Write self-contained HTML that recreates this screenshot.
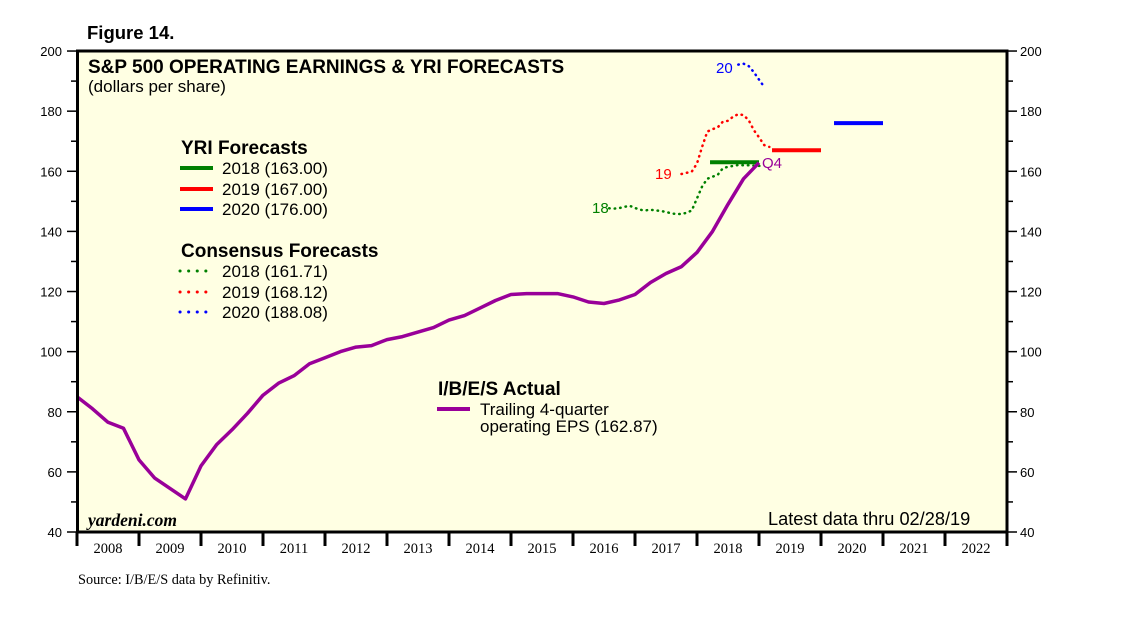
<!DOCTYPE html>
<html><head><meta charset="utf-8">
<style>
html,body{margin:0;padding:0;background:#fff;}
svg{display:block;font-family:"Liberation Sans",Arial,sans-serif;}
</style></head>
<body>
<svg id="chart" width="1138" height="621" viewBox="0 0 1138 621">
<text x="87" y="39" font-size="18.5" font-weight="bold">Figure 14.</text>
<rect x="77" y="51" width="930" height="481" fill="#FFFFE3"/>
<g id="axes"></g>
<g id="series"></g>
<rect x="77.5" y="51" width="929.5" height="481" fill="none" stroke="#000" stroke-width="3"/>
<text x="88" y="73" font-size="19" font-weight="bold">S&amp;P 500 OPERATING EARNINGS &amp; YRI FORECASTS</text>
<text x="88" y="92" font-size="17">(dollars per share)</text>
<g>
<text x="181" y="154" font-size="19" font-weight="bold">YRI Forecasts</text>
<line x1="180" y1="168" x2="213" y2="168" stroke="#008000" stroke-width="4"/>
<text x="222" y="174" font-size="17">2018 (163.00)</text>
<line x1="180" y1="189" x2="213" y2="189" stroke="#FF0000" stroke-width="4"/>
<text x="222" y="195" font-size="17">2019 (167.00)</text>
<line x1="180" y1="209" x2="213" y2="209" stroke="#0000FF" stroke-width="4"/>
<text x="222" y="215" font-size="17">2020 (176.00)</text>
</g>
<g>
<text x="181" y="257" font-size="19" font-weight="bold">Consensus Forecasts</text>
<line x1="180" y1="271" x2="206" y2="271" stroke="#008000" stroke-width="3" stroke-dasharray="0.1 8.5" stroke-linecap="round"/>
<text x="222" y="277" font-size="17">2018 (161.71)</text>
<line x1="180" y1="292" x2="206" y2="292" stroke="#FF0000" stroke-width="3" stroke-dasharray="0.1 8.5" stroke-linecap="round"/>
<text x="222" y="298" font-size="17">2019 (168.12)</text>
<line x1="180" y1="312" x2="206" y2="312" stroke="#0000FF" stroke-width="3" stroke-dasharray="0.1 8.5" stroke-linecap="round"/>
<text x="222" y="318" font-size="17">2020 (188.08)</text>
</g>
<g>
<text x="438" y="395" font-size="19" font-weight="bold">I/B/E/S Actual</text>
<line x1="437" y1="409" x2="470" y2="409" stroke="#990099" stroke-width="4"/>
<text x="480" y="415" font-size="17">Trailing 4-quarter</text>
<text x="480" y="432" font-size="17">operating EPS (162.87)</text>
</g>
<text x="592" y="213" font-size="15" fill="#008000">18</text>
<text x="655" y="179" font-size="15" fill="#FF0000">19</text>
<text x="716" y="73" font-size="15" fill="#0000FF">20</text>
<text x="762" y="168" font-size="15" fill="#990099">Q4</text>
<text x="88" y="526" font-size="17.5" font-style="italic" font-weight="bold" font-family="Liberation Serif,serif">yardeni.com</text>
<text x="768" y="525" font-size="18.2">Latest data thru 02/28/19</text>
<text x="78" y="584" font-size="14.3" font-family="Liberation Serif,serif">Source: I/B/E/S data by Refinitiv.</text>
</svg>
<script>
const yTicks=[40,60,80,100,120,140,160,180,200];
const years=[2008,2009,2010,2011,2012,2013,2014,2015,2016,2017,2018,2019,2020,2021,2022];
const actualStart=2008.0;
const actualEPS=[85,81,76.5,74.5,64,58,54.5,51,62,69,74,79.5,85.5,89.5,92,96,98,100,101.5,102,104,105,106.5,108,110.5,112,114.5,117,119,119.3,119.3,119.3,118.2,116.5,116,117.2,119,123,126,128.3,133,140,149,157.5,162.87];
const cons18Start=2016+7/12;
const cons18=[147.7,147.6,147.8,148.2,148.5,147.8,147.2,147,147.2,147,146.8,146.5,146,145.8,145.8,146.2,147,151,155,157.5,158.2,158.8,161,161.5,161.8,162.1,162,162,161.9,161.8,161.71];
const cons19Start=2017+9/12;
const cons19=[159.1,159.5,159.9,162.6,168.2,173.2,174,174.6,176.5,176.8,178.2,179,178.7,177,173.7,171.3,168.7,168.12];
const cons20Start=2018+8/12;
const cons20=[195.5,195.8,195,193,190.5,188.08];
const yriYears=[2018,2019,2020];
const yriValues=[163,167,176];
const yriColors=['#008000','#FF0000','#0000FF'];

const NS='http://www.w3.org/2000/svg';
const X=t=>77+(t-2008)*62;
const Y=v=>532-(v-40)*3.006;
function mk(tag,attrs,parent){const e=document.createElementNS(NS,tag);for(const k in attrs)e.setAttribute(k,attrs[k]);parent.appendChild(e);return e;}
const ax=document.getElementById('axes'), sr=document.getElementById('series');
for(let v=40;v<=200;v+=10){
  const major=v%20===0;
  const t1=mk('line',{x1:major?67:71,x2:77,y1:Y(v),y2:Y(v),stroke:'#000','stroke-width':1.5},ax);
  
  
  const t2=mk('line',{x1:1007,x2:major?1017:1013,y1:Y(v),y2:Y(v),stroke:'#000','stroke-width':1.5},ax);
  
  
}
yTicks.forEach(v=>{
  const a=mk('text',{x:62,y:Y(v)+5,'font-size':13,'text-anchor':'end'},ax);a.textContent=v;
  
  
  const b=mk('text',{x:1020,y:Y(v)+5,'font-size':13},ax);b.textContent=v;
  
  
});
for(let i=0;i<=years.length;i++){
  const yr=2008+i;
  const t=mk('line',{x1:X(yr),x2:X(yr),y1:532,y2:546,stroke:'#000','stroke-width':3},ax);
  
  
}
years.forEach(yr=>{
  const l=mk('text',{x:X(yr+0.5),y:553,'font-size':14.5,'text-anchor':'middle','font-family':'Liberation Serif,serif'},ax);l.textContent=yr;
  
  
});
function monthly(start,arr,color,name){
  const d=arr.map((v,i)=>(i?'L':'M')+X(start+i/12).toFixed(1)+','+Y(v).toFixed(1)).join('');
  const p=mk('path',{d:d,fill:'none',stroke:color,'stroke-width':2.5,'stroke-dasharray':'0.5 5','stroke-linecap':'round'},sr);
  
  
}
monthly(cons18Start,cons18,'#008000','consensus-2018-line');
monthly(cons19Start,cons19,'#FF0000','consensus-2019-line');
monthly(cons20Start,cons20,'#0000FF','consensus-2020-line');
yriYears.forEach((yr,i)=>{
  const l=mk('line',{x1:X(yr+0.21),x2:X(yr+1),y1:Y(yriValues[i]),y2:Y(yriValues[i]),stroke:yriColors[i],'stroke-width':4},sr);
  
  
});
const d=actualEPS.map((v,i)=>(i?'L':'M')+X(actualStart+i/4).toFixed(1)+','+Y(v).toFixed(1)).join('');
const ap=mk('path',{d:d,fill:'none',stroke:'#990099','stroke-width':3.5,'stroke-linejoin':'round'},sr);


</script>
</body></html>
